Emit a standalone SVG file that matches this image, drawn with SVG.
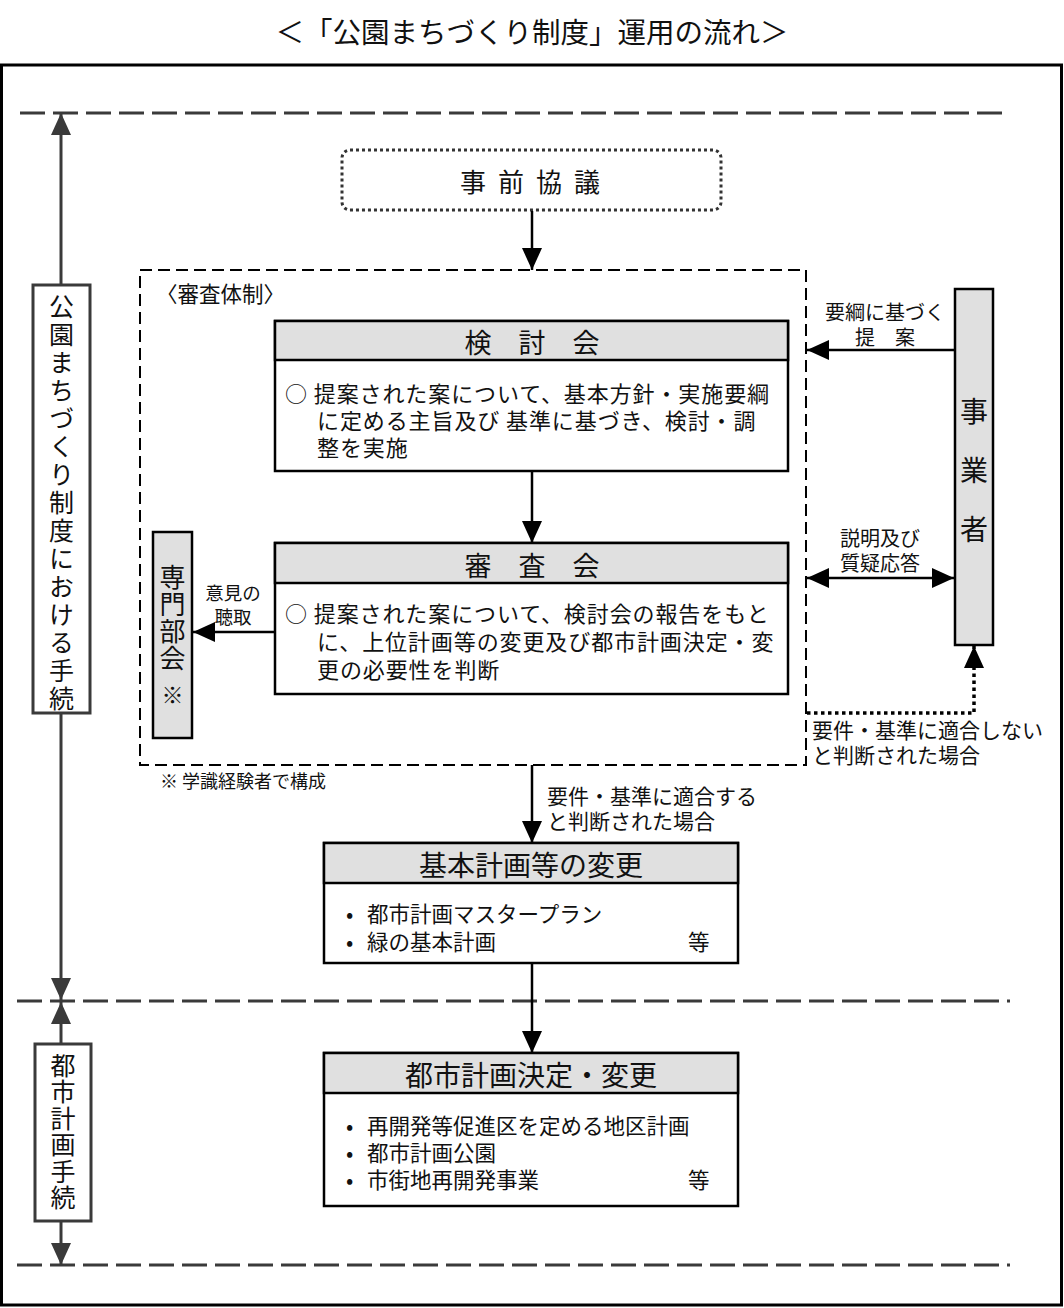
<svg xmlns="http://www.w3.org/2000/svg" width="1064" height="1308" viewBox="0 0 1064 1308">
<style>
text{font-family:"Noto Sans CJK JP","Noto Sans CJK SC",sans-serif;fill:#111;dominant-baseline:central}
.box{fill:#fff;stroke:#000;stroke-width:2.5}
.hdr{fill:#e0e0e0;stroke:#000;stroke-width:2.5}
.gbox{fill:#e0e0e0;stroke:#000;stroke-width:2.5}
.lbox{fill:#fff;stroke:#3a3a3a;stroke-width:3}
.t28{font-size:28px;text-anchor:middle}
.t22{font-size:21.5px}
.p22{font-size:22px;letter-spacing:0.9px}
.t20{font-size:21px}
.t16{font-size:18px}
.t19{font-size:20px}
.c{text-anchor:middle}
.v{writing-mode:vertical-rl;text-anchor:start}
.con{stroke:#000;stroke-width:2.5;fill:none}
.axis{stroke:#3a3a3a;stroke-width:3;fill:none}
.sep{stroke:#3a3a3a;stroke-width:3;stroke-dasharray:25 8;fill:none}
</style>
<defs>
<marker id="ah" markerUnits="userSpaceOnUse" markerWidth="22" markerHeight="20" refX="22" refY="10" orient="auto-start-reverse" viewBox="0 0 22 20"><path d="M0,0 L22,10 L0,20 z" fill="#000"/></marker>
<marker id="ag" markerUnits="userSpaceOnUse" markerWidth="22" markerHeight="20" refX="22" refY="10" orient="auto-start-reverse" viewBox="0 0 22 20"><path d="M0,0 L22,10 L0,20 z" fill="#3a3a3a"/></marker>
</defs>

<text x="532" y="30" class="t28" style="font-size:28.5px">＜「公園まちづくり制度」運用の流れ＞</text>
<rect x="1.5" y="65" width="1060" height="1240" fill="none" stroke="#000" stroke-width="3"/>

<g id="separators">
<line class="sep" x1="20" y1="113" x2="1002" y2="113"/>
<line class="sep" x1="17" y1="1001" x2="1010" y2="1001"/>
<line class="sep" x1="17" y1="1265" x2="1010" y2="1265"/>
</g>

<g id="review-frame">
<rect x="140" y="270" width="666" height="495" fill="none" stroke="#000" stroke-width="2" stroke-dasharray="12 6"/>
<text x="156" y="292" style="font-size:21.5px">〈審査体制〉</text>
<text x="160" y="780" class="t16">※ 学識経験者で構成</text>
</g>

<g id="node-jizen">
<rect x="342" y="150" width="379" height="60" rx="8" fill="#fff" stroke="#333" stroke-width="3" stroke-dasharray="3 3"/>
<text x="460" y="180" style="font-size:26px;letter-spacing:12px">事前協議</text>
</g>

<g id="node-kentou">
<rect x="275" y="321" width="513" height="150" class="box"/>
<rect x="275" y="321" width="513" height="39" class="hdr"/>
<text x="532" y="341" class="t28" style="font-size:27px">検　討　会</text>
<text x="285" y="392" class="p22">○ 提案された案について、基本方針・実施要綱</text>
<text x="317" y="419" class="p22">に定める主旨及び 基準に基づき、検討・調</text>
<text x="317" y="446" class="p22">整を実施</text>
</g>

<g id="node-shinsa">
<rect x="275" y="543" width="513" height="151" class="box"/>
<rect x="275" y="543" width="513" height="40" class="hdr"/>
<text x="532" y="564" class="t28" style="font-size:27px">審　査　会</text>
<text x="285" y="612" class="p22">○ 提案された案について、検討会の報告をもと</text>
<text x="317" y="640" class="p22">に、上位計画等の変更及び都市計画決定・変</text>
<text x="317" y="668" class="p22">更の必要性を判断</text>
</g>

<g id="node-senmon">
<rect x="153" y="532" width="39" height="206" class="gbox"/>
<text x="172.5" y="564" class="v" style="font-size:26px;letter-spacing:1px">専門部会</text>
<text x="172.5" y="693" class="c" style="font-size:22px">※</text>
</g>

<g id="node-jigyousha">
<rect x="955" y="289" width="38" height="356" class="gbox"/>
<text x="974" y="410" class="c" style="font-size:28px">事</text>
<text x="974" y="469" class="c" style="font-size:28px">業</text>
<text x="974" y="528" class="c" style="font-size:28px">者</text>
</g>

<g id="node-kihon">
<rect x="324" y="843" width="414" height="120" class="box"/>
<rect x="324" y="843" width="414" height="40" class="hdr"/>
<text x="531" y="864" class="t28">基本計画等の変更</text>
<text x="346" y="912" class="t22">•</text>
<text x="367" y="912" class="t22">都市計画マスタープラン</text>
<text x="346" y="940" class="t22">•</text>
<text x="367" y="940" class="t22">緑の基本計画</text>
<text x="688" y="940" class="t22">等</text>
</g>

<g id="node-toshi">
<rect x="324" y="1053" width="414" height="153" class="box"/>
<rect x="324" y="1053" width="414" height="40" class="hdr"/>
<text x="531" y="1074" class="t28">都市計画決定・変更</text>
<text x="346" y="1124" class="t22">•</text>
<text x="367" y="1124" class="t22">再開発等促進区を定める地区計画</text>
<text x="346" y="1151" class="t22">•</text>
<text x="367" y="1151" class="t22">都市計画公園</text>
<text x="346" y="1178" class="t22">•</text>
<text x="367" y="1178" class="t22">市街地再開発事業</text>
<text x="688" y="1178" class="t22">等</text>
</g>

<g id="node-phase1">
<rect x="33" y="285" width="57" height="428" class="lbox"/>
<text x="61.5" y="293.5" class="v" style="font-size:25px;letter-spacing:3px">公園まちづくり制度における手続</text>
</g>

<g id="node-phase2">
<rect x="35" y="1044" width="56" height="177" class="lbox"/>
<text x="63" y="1052.5" class="v" style="font-size:25px;letter-spacing:1.6px">都市計画手続</text>
</g>

<g id="connectors">
<line class="con" x1="532" y1="211" x2="532" y2="270" marker-end="url(#ah)"/>
<line class="con" x1="532" y1="471" x2="532" y2="543" marker-end="url(#ah)"/>
<line class="con" x1="275" y1="632" x2="193" y2="632" marker-end="url(#ah)"/>
<line class="con" x1="955" y1="350" x2="807" y2="350" marker-end="url(#ah)"/>
<line class="con" x1="807" y1="578" x2="954" y2="578" marker-start="url(#ah)" marker-end="url(#ah)"/>
<path d="M807,713 H974 V646" stroke="#000" stroke-width="3.5" stroke-dasharray="3.5 3.5" fill="none" marker-end="url(#ah)"/>
<line class="con" x1="532" y1="765" x2="532" y2="843" marker-end="url(#ah)"/>
<line class="con" x1="532" y1="963" x2="532" y2="1053" marker-end="url(#ah)"/>
<line class="axis" x1="61" y1="285" x2="61" y2="113" marker-end="url(#ag)"/>
<line class="axis" x1="61" y1="713" x2="61" y2="1000" marker-end="url(#ag)"/>
<line class="axis" x1="61" y1="1044" x2="61" y2="1002" marker-end="url(#ag)"/>
<line class="axis" x1="61" y1="1221" x2="61" y2="1265" marker-end="url(#ag)"/>
<text x="233" y="592" class="c" style="font-size:18.5px">意見の</text>
<text x="233" y="616" class="c" style="font-size:18.5px">聴取</text>
<text x="885" y="311" class="t19 c">要綱に基づく</text>
<text x="885" y="336" class="t19 c">提　案</text>
<text x="880" y="537" class="t19 c">説明及び</text>
<text x="880" y="562" class="t19 c">質疑応答</text>
<text x="812" y="729" class="t20">要件・基準に適合しない</text>
<text x="812" y="754" class="t20">と判断された場合</text>
<text x="547" y="795" class="t20">要件・基準に適合する</text>
<text x="547" y="820" class="t20">と判断された場合</text>
</g>
</svg>
